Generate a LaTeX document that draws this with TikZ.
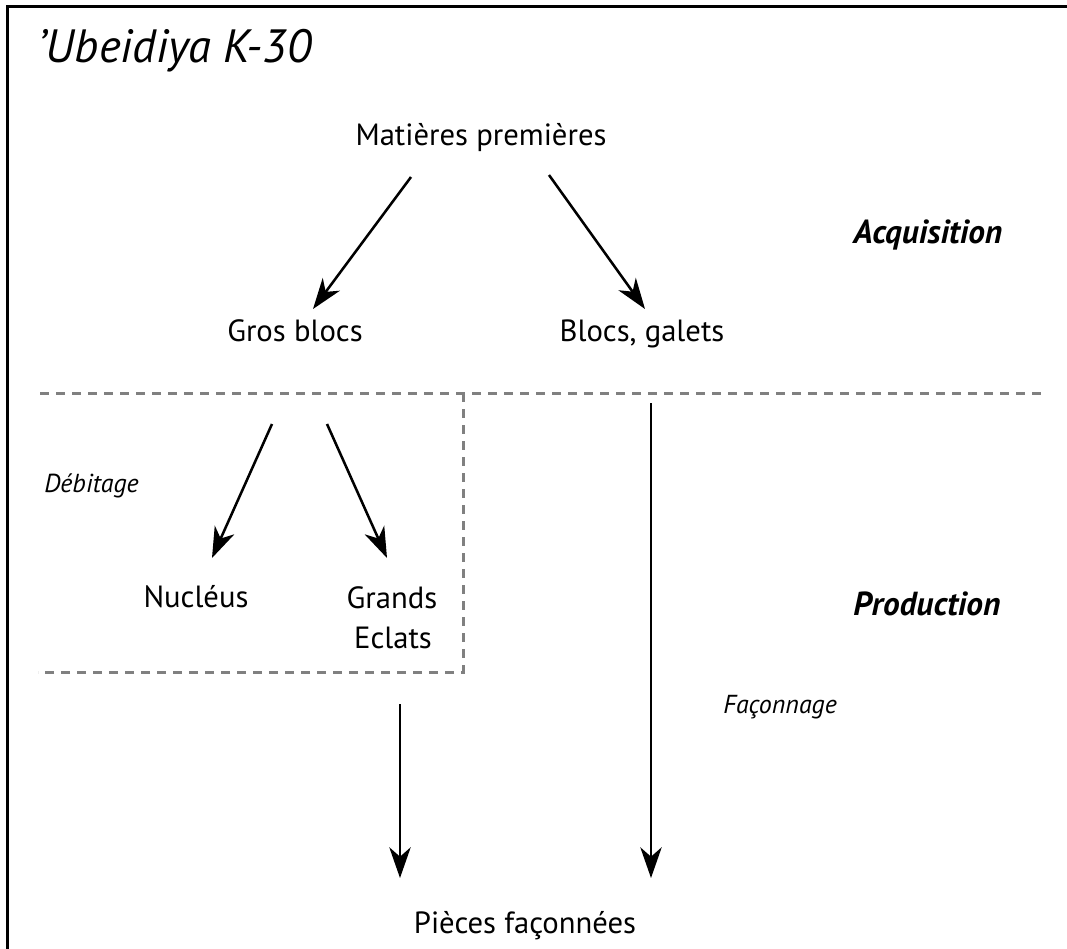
\documentclass[tikz,border=0pt]{standalone}
\usepackage{fontspec}
\setmainfont{PT Sans}
\usetikzlibrary{arrows.meta,calc}

\begin{document}
\begin{tikzpicture}[x=0.75pt,y=0.75pt,yscale=-1,
  lbl/.style={anchor=base,inner sep=0.75pt,font=\fontsize{23}{28}\selectfont},
  stage/.style={anchor=base west,inner sep=0.75pt,font=\fontsize{25}{30}\selectfont\bfseries\itshape},
  step label/.style={anchor=base west,inner sep=0.75pt,font=\fontsize{19.5}{23}\selectfont\itshape},
  arr/.style={line width=1.9pt,-{Stealth[length=23pt,width=16pt,inset=7pt]}},
  split/.style={color={rgb, 255:red, 128; green, 128; blue, 128},line width=2.25pt,dash pattern=on 7pt off 5pt}]
\useasboundingbox (0,0) rectangle (1067,949);

%Frame
\draw [line width=2.25pt]    (7,949) -- (7,7) -- (1067,7) ;

% Text Node
\draw (36,63) node [anchor=base west,inner sep=0.75pt,font=\fontsize{35}{42}\selectfont\itshape] (title) {'Ubeidiya K-30};
% Text Node
\draw (481,145) node [lbl] (mp) {Matières premières};
% Text Node
\draw (295,341) node [lbl] (gb) {Gros blocs};
% Text Node
\draw (642,341) node [lbl] (bg) {Blocs, galets};
% Text Node
\draw (196,607) node [lbl] (nu) {Nucléus};
% Text Node
\draw (392,608) node [lbl] (gr) {Grands};
% Text Node
\draw (393,648) node [lbl] (ec) {Eclats};
% Text Node
\draw (525,933) node [lbl] (pf) {Pièces façonnées};
% Text Node
\draw (852,243) node [stage] (acq) {Acquisition};
% Text Node
\draw (852,615) node [stage] (prod) {Production};
% Text Node
\draw (43,492) node [step label] (deb) {Débitage};
% Text Node
\draw (722,713) node [step label] (fac) {Façonnage};

%Dashed Lines
\draw [split]    (40,393) -- (1045,393) ;
\draw [split]    (463,393) -- (463,672) -- (38,672) ;

%Arrows
\draw [arr]    ($(mp.base)+(-70,32)$) -- ($(gb.base)+(18,-32)$) ;
\draw [arr]    ($(mp.base)+(68,30)$) -- ($(bg.base)+(3,-32)$) ;
\draw [arr]    ($(gb.base)+(-23,83)$) -- ($(nu.base)+(16,-49)$) ;
\draw [arr]    ($(gb.base)+(32,83)$) -- ($(gr.base)+(-5,-50)$) ;
\draw [arr]    ($(ec.base)+(7,56)$) -- ($(pf.base)+(-125,-55)$) ;
\draw [arr]    ($(bg.base)+(9,62)$) -- ($(pf.base)+(126,-55)$) ;
\end{tikzpicture}
\end{document}
